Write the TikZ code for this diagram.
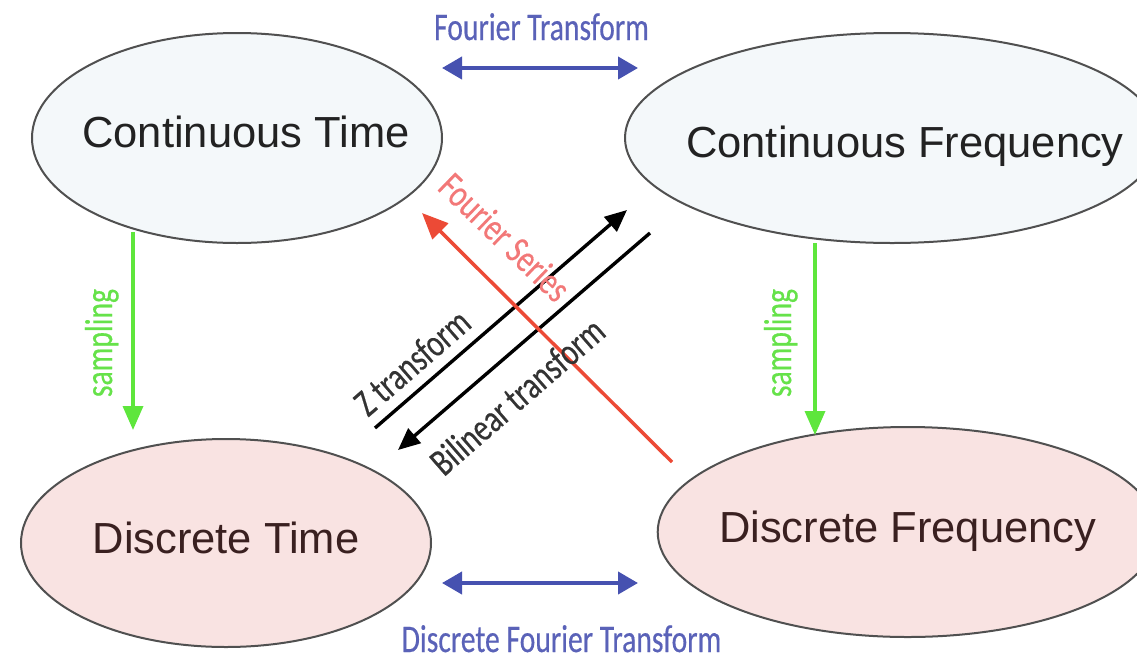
\documentclass[tikz,border=0pt]{standalone}
\usepackage{fontspec}
\setmainfont{Liberation Sans}
\newfontfamily\lblfont[FakeStretch=0.76,FakeBold=0.4]{Carlito}
\usetikzlibrary{arrows.meta,shapes.geometric,calc}
\definecolor{ctfill}{HTML}{F4F8FA}
\definecolor{dtfill}{HTML}{F9E3E2}
\definecolor{edge}{HTML}{505050}
\definecolor{ctxt}{HTML}{222222}
\definecolor{dtxt}{HTML}{3A2020}
\definecolor{ftblue}{HTML}{4651B0}
\definecolor{ftlbl}{HTML}{5A62B8}
\definecolor{sampgreen}{HTML}{5EE63C}
\definecolor{samplbl}{HTML}{66E24A}
\definecolor{fsred}{HTML}{EC4A36}
\definecolor{fslbl}{HTML}{F27878}
\definecolor{zgray}{HTML}{333333}
\tikzset{
  domainbox/.style={ellipse, draw=edge, line width=2pt, inner sep=0pt},
  contbox/.style={domainbox, fill=ctfill},
  discbox/.style={domainbox, fill=dtfill},
  bigtxt/.style={font=\fontsize{43.5}{50}\selectfont, inner sep=0pt, text depth=0pt},
  lbl/.style={font=\lblfont\fontsize{39}{42}\selectfont, inner sep=0pt},
  bluearr/.style={draw=ftblue, line width=4pt, {Triangle[length=20pt,width=22pt]}-{Triangle[length=20pt,width=22pt]}},
  greenarr/.style={draw=sampgreen, line width=3.5pt, -{Triangle[length=24pt,width=20pt]}},
  blackarr/.style={draw=black, line width=3.4pt, -{Triangle[length=22pt,width=19pt]}},
  redarr/.style={draw=fsred, line width=3.5pt, -{Triangle[length=26pt,width=22pt]}}
}
\begin{document}
\begin{tikzpicture}[x=1pt,y=-1pt]
\useasboundingbox (0,0) rectangle (1137,659);
\clip (0,0) rectangle (1137,659);

% domains
\node[contbox, minimum width=410pt, minimum height=210pt] (ct) at (237,138) {};
\node[contbox, minimum width=534pt, minimum height=210pt] (cf) at (892,138) {};
\node[discbox, minimum width=410pt, minimum height=208pt] (dt) at (226,543) {};
\node[discbox, minimum width=500pt, minimum height=210pt] (df) at (907.7,532) {};

\node[bigtxt, text=ctxt] (ctt) at ([xshift=9pt,yshift=6pt]ct.center) {Continuous Time};
\node[bigtxt, text=ctxt] (cft) at ([xshift=13pt,yshift=-4pt]cf.center) {Continuous Frequency};
\node[bigtxt, text=dtxt] (dtt) at ([xshift=0pt,yshift=5pt]dt.center) {Discrete Time};
\node[bigtxt, text=dtxt] (dft) at ([xshift=0pt,yshift=5pt]df.center) {Discrete Frequency};

% arrow end points
\coordinate (ftL) at (442,68);
\coordinate (ftR) at (638,68);
\coordinate (dftL) at (442,583);
\coordinate (dftR) at (638,583);
\coordinate (slT) at (133,232);
\coordinate (slB) at (133,430);
\coordinate (srT) at (815,243);
\coordinate (srB) at (815,435);
\coordinate (fsS) at (672,462);
\coordinate (fsE) at (422,213);
\coordinate (zS) at (375,428);
\coordinate (zE) at (627,210);
\coordinate (bS) at (650,233);
\coordinate (bE) at (398,450);

% connectors
\draw[bluearr] (ftL) -- (ftR);
\draw[bluearr] (dftL) -- (dftR);
\draw[greenarr] (slT) -- (slB);
\draw[greenarr] (srT) -- (srB);
\draw[blackarr] (zS) -- (zE);
\draw[blackarr] (bS) -- (bE);
\draw[redarr] (fsS) -- (fsE);

% labels
\node[lbl, text=ftlbl, anchor=base] (ftl) at (541.5,40) {Fourier Transform};
\node[lbl, text=ftlbl, anchor=base] (dftl) at (561.5,652) {Discrete Fourier Transform};
\node[lbl, text=samplbl, rotate=90, anchor=base] (sll) at (112,343) {sampling};
\node[lbl, text=samplbl, rotate=90, anchor=base] (srl) at (791,343) {sampling};
\node[lbl, text=fslbl, rotate=-44] (fsl) at (505,237) {Fourier Series};
\node[lbl, text=zgray, rotate=41] (zl) at (412,362) {Z transform};
\node[lbl, text=zgray, rotate=41] (bl) at (517,396) {Bilinear transform};
\end{tikzpicture}
\end{document}
